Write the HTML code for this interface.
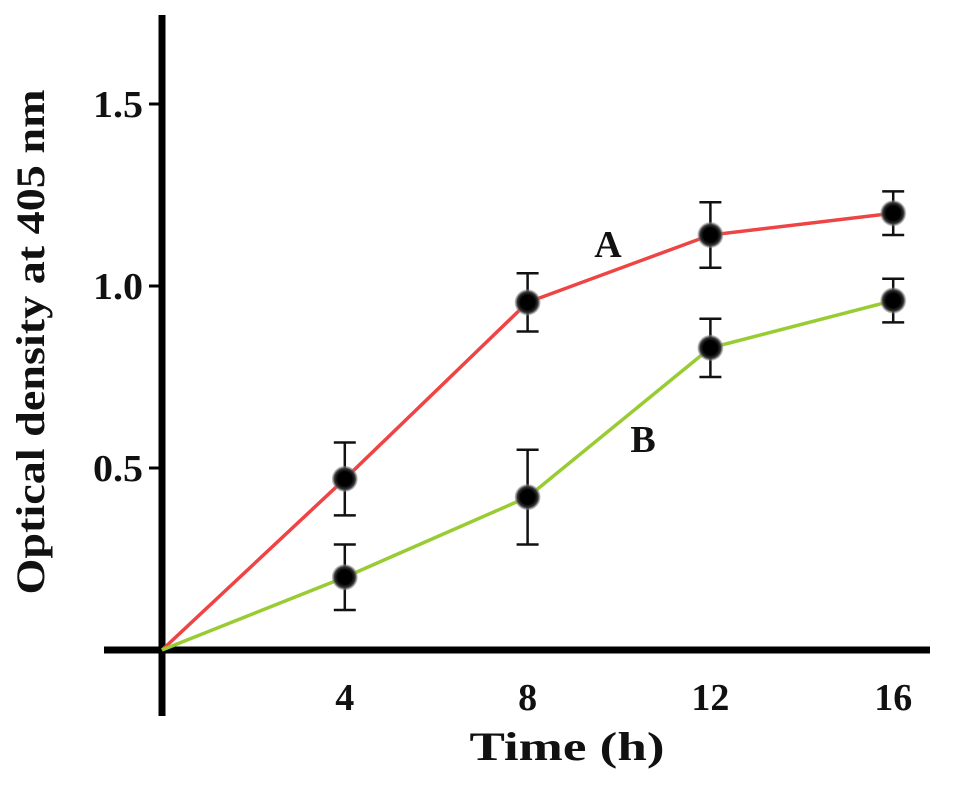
<!DOCTYPE html>
<html><head><meta charset="utf-8"><style>
body{margin:0;background:#fff;}
svg text{font-family:"Liberation Serif",serif;font-weight:bold;fill:#111;}
</style></head><body>
<svg id="chart" width="969" height="781" viewBox="0 0 969 781" xmlns="http://www.w3.org/2000/svg">
<defs><radialGradient id="dot"><stop offset="0.55" stop-color="#000"/><stop offset="0.8" stop-color="#333"/><stop offset="1" stop-color="#999" stop-opacity="0.4"/></radialGradient></defs>
<g id="axes"></g><g id="series"></g>
<text transform="translate(44,342) rotate(-90)" text-anchor="middle" font-size="40" textLength="505" lengthAdjust="spacingAndGlyphs">Optical density at 405 nm</text>
<text x="567" y="760" text-anchor="middle" font-size="40" textLength="195" lengthAdjust="spacingAndGlyphs">Time (h)</text>
</svg>
<script>
const xTicks=[4,8,12,16];
const yTicks=[0.5,1.0,1.5];
const yTickLabels=["0.5","1.0","1.5"];
const times=[0,4,8,12,16];
const seriesA=[0,0.47,0.955,1.14,1.20];
const errA=[0,0.10,0.08,0.09,0.06];
const seriesB=[0,0.20,0.42,0.83,0.96];
const errB=[0,0.09,0.13,0.08,0.06];
const ns="http://www.w3.org/2000/svg";
const X=t=>162+45.7*t, Y=v=>650-364*v;
function mk(tag,attrs,parent){const e=document.createElementNS(ns,tag);for(const k in attrs)e.setAttribute(k,attrs[k]);parent.appendChild(e);return e;}
const ax=document.getElementById('axes'), sg=document.getElementById('series');
let e=mk('line',{x1:162,y1:15,x2:162,y2:716,stroke:'#000','stroke-width':7},ax);


e=mk('line',{x1:104,y1:650,x2:930,y2:650,stroke:'#000','stroke-width':7},ax);


yTicks.forEach((v,i)=>{
 mk('line',{x1:149,y1:Y(v),x2:162,y2:Y(v),stroke:'#000','stroke-width':3},ax);
 const t=mk('text',{x:143,y:Y(v)+13,'text-anchor':'end','font-size':38,textLength:50,lengthAdjust:'spacingAndGlyphs'},ax);t.textContent=yTickLabels[i];
 
 
});
xTicks.forEach(v=>{
 const t=mk('text',{x:X(v),y:710,'text-anchor':'middle','font-size':38},ax);t.textContent=String(v);
 
 
});
function draw(vals,errs,color,name){
 const p=mk('polyline',{points:times.map((t,i)=>X(t)+','+Y(vals[i])).join(' '),fill:'none',stroke:color,'stroke-width':3.5},sg);
 
 
 times.forEach((t,i)=>{ if(i===0)return;
  const x=X(t),hi=Y(vals[i]+errs[i]),lo=Y(vals[i]-errs[i]);
  const g=mk('g',{},sg);
  
  
  mk('line',{x1:x,y1:hi,x2:x,y2:lo,stroke:'#111','stroke-width':2.5},g);
  mk('line',{x1:x-11,y1:hi,x2:x+11,y2:hi,stroke:'#111','stroke-width':2.5},g);
  mk('line',{x1:x-11,y1:lo,x2:x+11,y2:lo,stroke:'#111','stroke-width':2.5},g);
  mk('circle',{cx:x,cy:Y(vals[i]),r:13,fill:'url(#dot)'},g);
 });
}
draw(seriesA,errA,'#ee4444','series-a');
draw(seriesB,errB,'#99cc33','series-b');
let l=mk('text',{x:608,y:257,'text-anchor':'middle','font-size':38},sg);l.textContent='A';


l=mk('text',{x:643,y:452,'text-anchor':'middle','font-size':38},sg);l.textContent='B';


</script>
</body></html>
